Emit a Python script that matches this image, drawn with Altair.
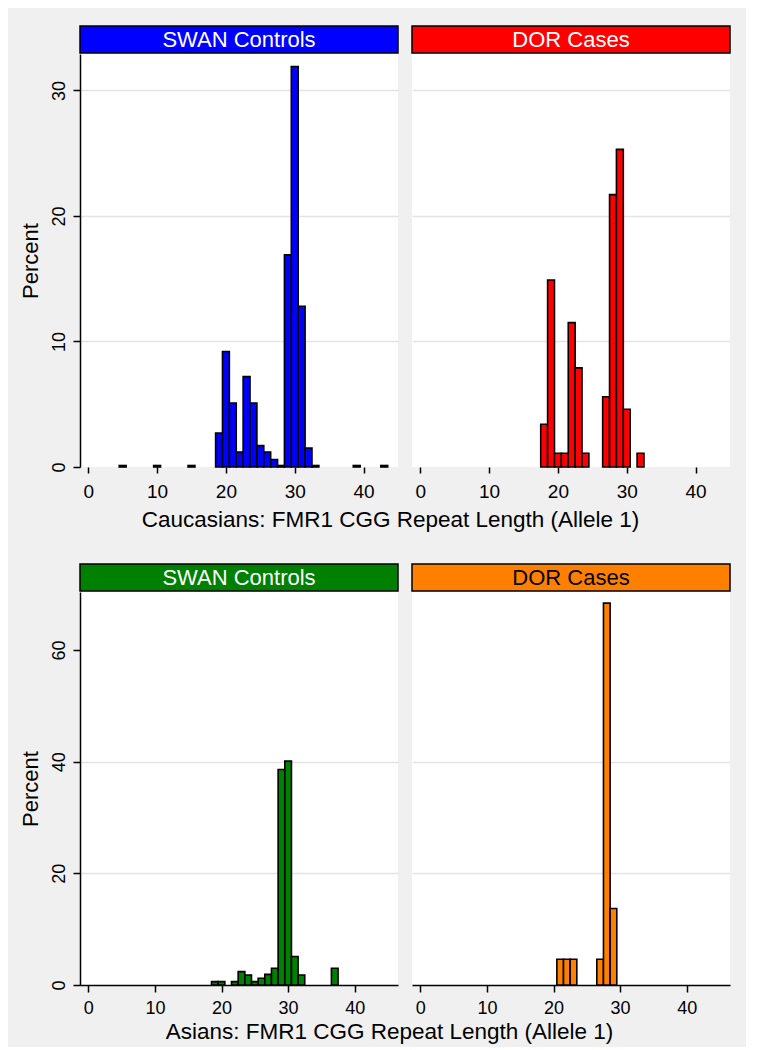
import altair as alt
import pandas as pd

FONT = "Liberation Sans"

# ---------------- data ----------------
panel_titles = ["SWAN Controls", "DOR Cases", "SWAN Controls", "DOR Cases"]
panel_colors = ["#0000ff", "#ff0000", "#008000", "#ff8000"]
title_text_colors = ["#ffffff", "#ffffff", "#ffffff", "#000000"]

x_titles = [
    "Caucasians: FMR1 CGG Repeat Length (Allele 1)",
    "Asians: FMR1 CGG Repeat Length (Allele 1)",
]
x_ticks = [0, 10, 20, 30, 40]
y_ticks_top = [0, 10, 20, 30]
y_ticks_bottom = [0, 20, 40, 60]

# Caucasians, SWAN controls
cau_ctrl_len = [5, 10, 15, 19, 20, 21, 22, 23, 24, 25, 26, 27, 28, 29, 30, 31, 32, 33, 39, 43]
cau_ctrl_pct = [0.12, 0.12, 0.12, 2.7, 9.2, 5.1, 1.2, 7.2, 5.1, 1.7, 1.2, 0.6, 0.12,
                16.9, 31.9, 12.8, 1.5, 0.12, 0.12, 0.12]

# Caucasians, DOR cases
cau_case_len = [18, 19, 20, 21, 22, 23, 24, 27, 28, 29, 30, 32]
cau_case_pct = [3.4, 14.9, 1.1, 1.1, 11.5, 7.9, 1.1, 5.6, 21.7, 25.3, 4.6, 1.1]

# Asians, SWAN controls
asi_ctrl_len = [19, 20, 22, 23, 24, 25, 26, 27, 28, 29, 30, 31, 32, 37]
asi_ctrl_pct = [0.6, 0.6, 0.6, 2.4, 1.8, 0.6, 1.2, 1.9, 3.0, 38.6, 40.1, 5.1, 1.8, 3.0]

# Asians, DOR cases
asi_case_len = [21, 22, 23, 27, 28, 29]
asi_case_pct = [4.6, 4.6, 4.6, 4.6, 68.4, 13.7]

W = 318
GRID = "#e4e4e4"
# gridlines are drawn except at 0 and at 60 (as in the reference)
grid_color = {"condition": {"test": "datum.value == 0 || datum.value >= 60",
                            "value": "rgba(0,0,0,0)"},
              "value": GRID}


def panel(lengths, pcts, color, label, label_color, *, height, xdom, ydom,
          yticks, left, bottom_row, xtitle, xfs, label_pad, tick_size,
          title_x, title_y):
    xs = alt.Scale(domain=xdom, nice=False, zero=False)
    ys = alt.Scale(domain=ydom, nice=False, zero=True)

    if left:
        yaxis = alt.Axis(
            values=yticks, title="Percent",
            grid=True, gridColor=grid_color, gridWidth=1.5,
            domain=True, domainColor="black", domainWidth=1.5,
            ticks=True, tickColor="black", tickSize=7, tickWidth=1.5,
            labelAngle=270, labelAlign="center", labelBaseline="alphabetic",
            labelPadding=9, labelFont=FONT, labelFontSize=18, labelColor="black",
            titleFont=FONT, titleFontSize=22, titleFontWeight="normal",
            titleColor="black", titleAngle=270, titleAlign="center",
            titleBaseline="alphabetic", titleX=-43, titleY=height / 2,
        )
    else:
        yaxis = alt.Axis(
            values=yticks, title=None, grid=True, gridColor=grid_color,
            gridWidth=1.5, domain=False, ticks=False, labels=False,
        )

    xkw = dict(
        values=x_ticks, grid=False, domain=bottom_row, domainColor="black",
        domainWidth=1.5, ticks=True, tickColor="black", tickSize=tick_size,
        tickWidth=1.5, labelFont=FONT, labelFontSize=xfs, labelColor="black",
        labelBaseline="alphabetic", labelPadding=label_pad, labelFlush=False,
        labelOverlap=False,
    )
    if xtitle:
        xkw.update(
            title=xtitle, titleFont=FONT, titleFontSize=22.5,
            titleFontWeight="normal", titleColor="black", titleAlign="center",
            titleBaseline="alphabetic", titleX=title_x, titleY=title_y,
        )
    else:
        xkw.update(title=None)

    df = pd.DataFrame({"length": lengths, "percent": pcts})

    bars = alt.Chart(df).transform_calculate(
        lo="datum.length - 0.5", hi="datum.length + 0.5"
    ).mark_bar(fill=color, stroke="black", strokeWidth=1.6).encode(
        x=alt.X("lo:Q", scale=xs, axis=alt.Axis(**xkw)),
        x2="hi:Q",
        y=alt.Y("percent:Q", scale=ys, axis=yaxis),
        y2=alt.datum(0),
    )

    hdf = pd.DataFrame({"label": [label]})
    hdr = alt.Chart(hdf).mark_rect(fill=color, stroke="black", strokeWidth=1.5).encode(
        x=alt.value(0), x2=alt.value(W), y=alt.value(-28), y2=alt.value(-1)
    )
    htxt = alt.Chart(hdf).mark_text(
        font=FONT, fontSize=22, color=label_color, align="center", baseline="alphabetic"
    ).encode(x=alt.value(W / 2), y=alt.value(-7.5), text="label:N")

    return alt.layer(bars, hdr, htxt).properties(width=W, height=height)


top_kw = dict(height=413, xdom=[-1.2, 45.0], ydom=[0, 32.9], yticks=y_ticks_top,
              bottom_row=False, xfs=19, label_pad=24, tick_size=6,
              title_x=310, title_y=59)
bot_kw = dict(height=393, xdom=[-1.25, 46.5], ydom=[0, 70.4], yticks=y_ticks_bottom,
              bottom_row=True, xfs=18, label_pad=21, tick_size=7,
              title_x=309, title_y=53)

p1 = panel(cau_ctrl_len, cau_ctrl_pct, panel_colors[0], panel_titles[0], title_text_colors[0],
           left=True, xtitle=x_titles[0], **top_kw)
p2 = panel(cau_case_len, cau_case_pct, panel_colors[1], panel_titles[1], title_text_colors[1],
           left=False, xtitle=None, **top_kw)
p3 = panel(asi_ctrl_len, asi_ctrl_pct, panel_colors[2], panel_titles[2], title_text_colors[2],
           left=True, xtitle=x_titles[1], **bot_kw)
p4 = panel(asi_case_len, asi_case_pct, panel_colors[3], panel_titles[3], title_text_colors[3],
           left=False, xtitle=None, **bot_kw)

chart = alt.concat(
    p1, p2, p3, p4, columns=2, spacing={"row": 125, "column": 14}, bounds="flush"
).properties(
    padding={"left": 11, "top": 17, "right": 15, "bottom": 4}
).configure(
    background="#f0f0f0"
).configure_view(fill="white", strokeWidth=0)

chart.save("out.html", embed_options={"renderer": "svg", "actions": False})
